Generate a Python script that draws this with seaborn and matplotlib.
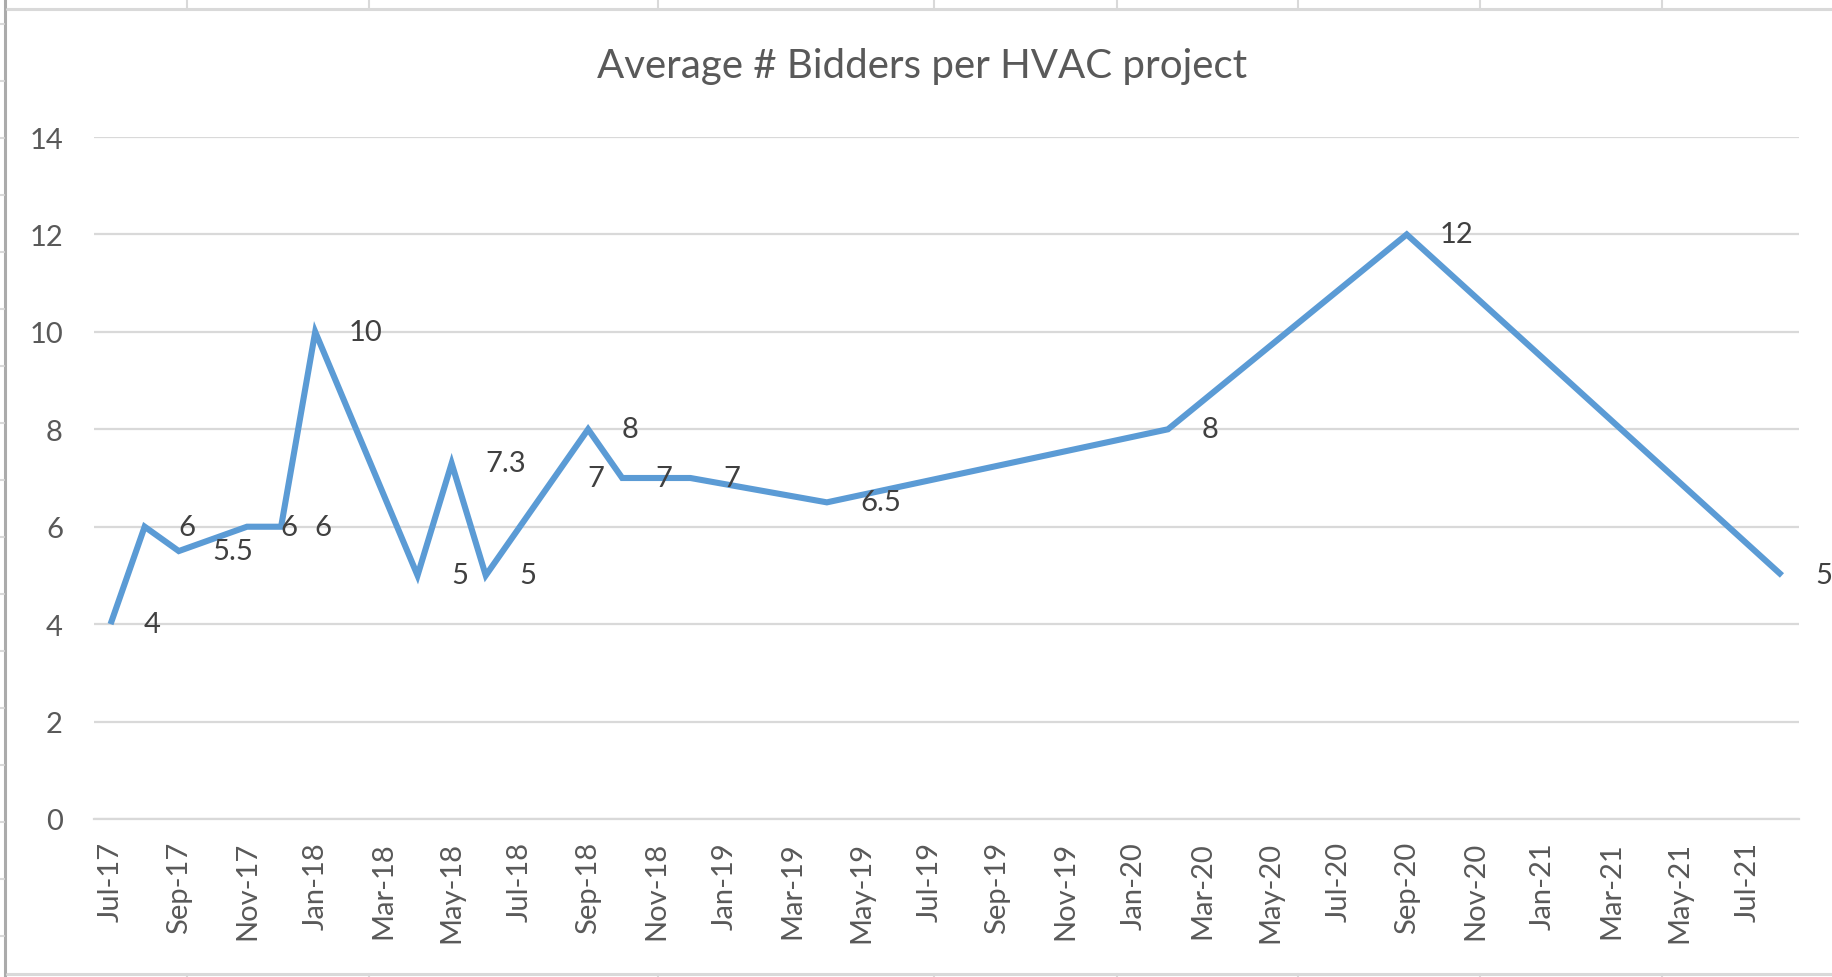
import numpy as np
import pandas as pd
import matplotlib
matplotlib.use("Agg")
import matplotlib.pyplot as plt
from matplotlib.lines import Line2D
import seaborn as sns

# data
months = ["2017-07", "2017-08", "2017-09", "2017-11", "2017-12", "2018-01",
          "2018-04", "2018-05", "2018-06", "2018-08", "2018-09", "2018-10",
          "2018-12", "2019-04", "2020-02", "2020-09", "2021-08"]
bidders = [4, 6, 5.5, 6, 6, 10, 5, 7.3, 5, 7, 8, 7, 7, 6.5, 8, 12, 5]
bidder_labels = ["4", "6", "5.5", "6", "6", "10", "5", "7.3", "5", "7", "8",
                 "7", "7", "6.5", "8", "12", "5"]
axis_start = "2017-07"
axis_end = "2021-08"
y_ticks = [0, 2, 4, 6, 8, 10, 12, 14]
title = "Average # Bidders per HVAC project"

# month slots like an Excel date axis (every month same width)
start = pd.Period(axis_start, freq="M")
all_months = pd.period_range(axis_start, axis_end, freq="M")
df = pd.DataFrame({"month": pd.PeriodIndex(months, freq="M"), "bidders": bidders})
df["pos"] = [(p - start).n for p in df["month"]]

sns.set_style("white")
plt.rcParams["font.family"] = ["Lato", "DejaVu Sans"]

W, H = 1832, 978
fig = plt.figure(figsize=(W / 100, H / 100), dpi=100)
ax = fig.add_axes([93.5 / W, 1 - 820 / H, (1799 - 93.5) / W, (820 - 138) / H])

sns.lineplot(data=df, x="pos", y="bidders", ax=ax, color="#5b9bd5", linewidth=4.4,
             solid_joinstyle="miter", solid_capstyle="butt")

# data labels to the right of each point
for p, v, lab in zip(df["pos"], df["bidders"], bidder_labels):
    ax.annotate(lab, (p, v), xytext=(24, 0), textcoords="offset points",
                ha="left", va="center", fontsize=21, color="#404040",
                annotation_clip=False)

n = len(all_months)
ax.set_xlim(-0.5, n - 0.5)
ax.set_ylim(0, 14)
ax.set_yticks(y_ticks)
ax.set_yticklabels([str(t) for t in y_ticks])
ax.yaxis.grid(True, color="#d9d9d9", linewidth=1.6)
ax.set_axisbelow(True)

label_pos = np.arange(0, n, 2)
ax.set_xticks(label_pos)
ax.set_xticklabels([all_months[i].strftime("%b-%y") for i in label_pos], rotation=90)
ax.set_xticks(np.arange(-0.5, n, 2), minor=True)
ax.tick_params(axis="x", which="major", length=0, pad=16, labelsize=21, labelcolor="#595959")
ax.tick_params(axis="x", which="minor", length=8, width=1.5, color="#d9d9d9")
ax.tick_params(axis="y", length=0, pad=22, labelsize=21, labelcolor="#595959")
for lbl in ax.get_xticklabels():
    lbl.set_verticalalignment("top")

ax.set_xlabel("")
ax.set_ylabel("")
for side in ["top", "right", "left"]:
    ax.spines[side].set_visible(False)
ax.spines["bottom"].set_color("#d9d9d9")
ax.spines["bottom"].set_linewidth(1.6)

fig.text(922 / W, 1 - 78 / H, title, ha="center", va="baseline",
         fontsize=29, color="#595959")

# spreadsheet cell borders seen around the chart in the screenshot
def px_line(xs, ys, color, lw):
    fig.add_artist(Line2D([x / W for x in xs], [1 - y / H for y in ys],
                          transform=fig.transFigure, color=color, linewidth=lw))

px_line([5, 5], [0, H], "#ababab", 2.2)
px_line([7, W], [9.5, 9.5], "#d9d9d9", 2.2)
px_line([7, W], [975, 975], "#d9d9d9", 2.2)
for cx in [187, 369, 658, 934, 1117, 1298, 1480, 1662]:
    px_line([cx, cx], [0, 9], "#d9d9d9", 1.5)
    px_line([cx, cx], [975, H], "#d9d9d9", 1.5)
for ry in range(25, H, 57):
    px_line([0, 4], [ry, ry], "#d9d9d9", 1.5)

fig.savefig("out.png", dpi=100)
